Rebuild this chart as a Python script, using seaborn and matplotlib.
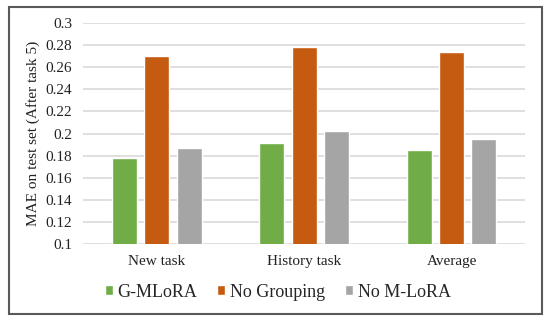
import matplotlib
matplotlib.use("Agg")
import matplotlib.pyplot as plt
import seaborn as sns
import pandas as pd
from matplotlib.patches import Rectangle

tasks = ["New task", "History task", "Average"]
methods = ["G-MLoRA", "No Grouping", "No M-LoRA"]
g_mlora = [0.178, 0.191, 0.185]
no_grouping = [0.270, 0.278, 0.274]
no_mlora = [0.187, 0.202, 0.195]
colors = ["#70ad47", "#c55a11", "#a5a5a5"]

rows = []
for name, vals in zip(methods, [g_mlora, no_grouping, no_mlora]):
    for t, v in zip(tasks, vals):
        rows.append({"Task": t, "Method": name, "MAE": v})
df = pd.DataFrame(rows)

sns.set_style("white")
plt.rcParams["font.family"] = "serif"
plt.rcParams["font.serif"] = ["Liberation Serif", "DejaVu Serif"]

fig = plt.figure(figsize=(5.5, 3.21), dpi=100)
ax = fig.add_axes([0.151, 0.240, 0.804, 0.688])

sns.barplot(data=df, x="Task", y="MAE", hue="Method", order=tasks,
            hue_order=methods, palette=colors, width=0.66, gap=0.23,
            saturation=1, ax=ax, legend=True)

ax.set_ylim(0.1, 0.3)
ax.set_xlim(-0.5, 2.5)
ax.set_yticks([0.1 + 0.02 * i for i in range(11)])
ax.set_yticklabels(["0.1", "0.12", "0.14", "0.16", "0.18", "0.2", "0.22",
                    "0.24", "0.26", "0.28", "0.3"])
ax.yaxis.grid(True, color="#d9d9d9", linewidth=1.2)
ax.set_axisbelow(True)
for s in ax.spines.values():
    s.set_visible(False)
ax.tick_params(axis="both", length=0, labelsize=11, colors="#222222")
ax.tick_params(axis="y", pad=8)
ax.tick_params(axis="x", pad=8)
ax.set_xlabel("")
ax.set_ylabel("MAE on test set (After task 5)", fontsize=11, color="#222222",
              labelpad=4)

handles, labels = ax.get_legend_handles_labels()
ax.get_legend().remove()
fig.legend(handles, labels, loc="center", bbox_to_anchor=(0.505, 0.09),
           ncol=3, frameon=False, fontsize=13, handlelength=0.45,
           handleheight=0.45, handletextpad=0.25, columnspacing=1.1)

fig.patches.append(Rectangle((9 / 550, 7 / 321), 533 / 550, 307 / 321,
                             transform=fig.transFigure, fill=False,
                             edgecolor="#595959", linewidth=1.5))

fig.savefig("out.png", dpi=100)
